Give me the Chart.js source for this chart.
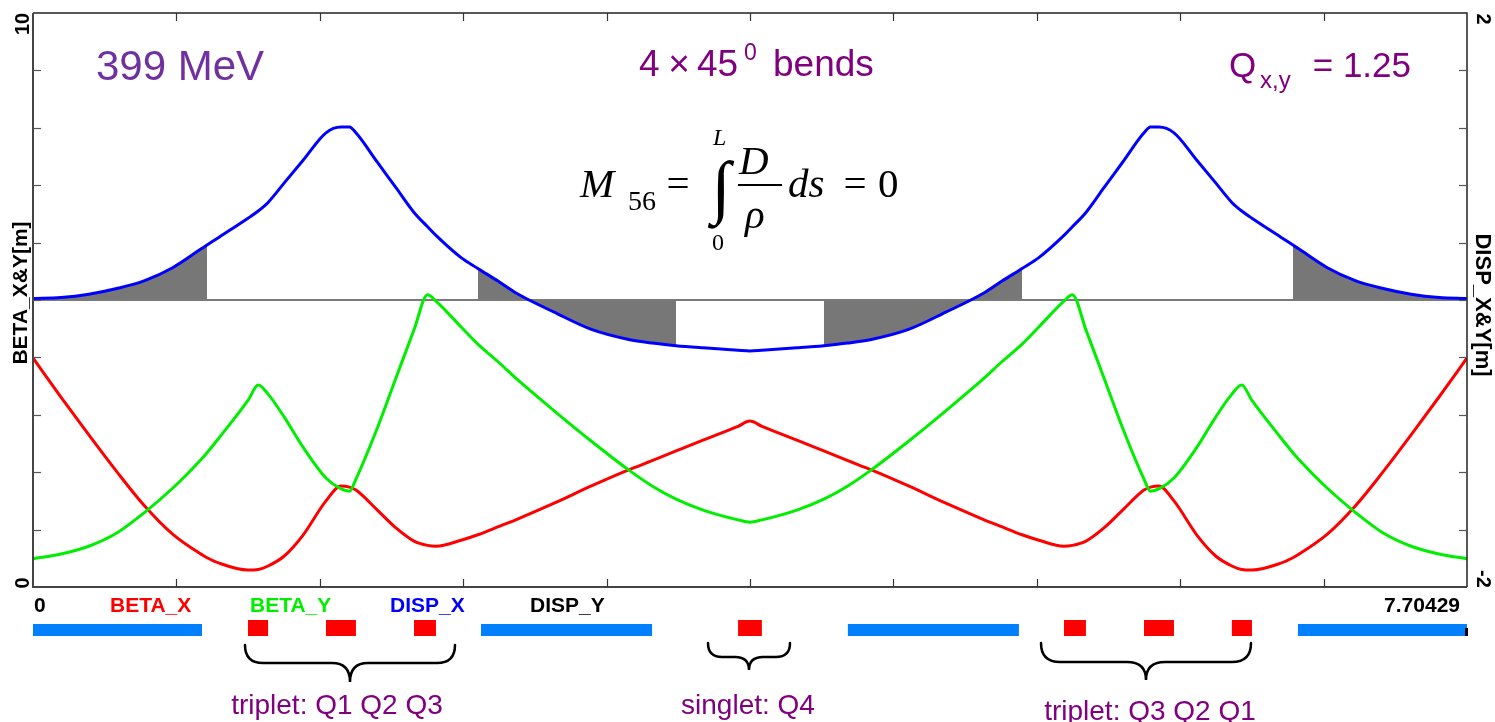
<!DOCTYPE html>
<html><head><meta charset="utf-8">
<script src="https://cdn.jsdelivr.net/npm/chart.js@4/dist/chart.umd.min.js"></script>
<style>html,body{margin:0;padding:0;background:#fff}#wrap{width:1495px;height:722px;position:relative}</style>
</head><body><div id="wrap"><canvas id="c" width="1495" height="722"></canvas></div>
<script>
// ---------- data ----------
const sMax = 7.70429;
const sPos = [0,0.15,0.3,0.45,0.6,0.75,0.908,0.935,1.0,1.155,1.21,1.263,1.35,1.45,1.574,1.655,1.7,1.735,1.85,1.95,2.047,2.12,2.165,2.3,2.39,2.5,2.6,2.8,3.0,3.2,3.326,3.455,3.6,3.788,3.852,
  3.916,4.104,4.249,4.378,4.504,4.704,4.904,5.104,5.204,5.314,5.404,5.539,5.584,5.657,5.754,5.854,5.969,6.004,6.049,6.130,6.254,6.354,6.441,6.494,6.549,6.704,6.769,6.796,6.954,7.104,7.254,7.404,7.554,7.70429];
const betaX = [3.99,3.31,2.65,2.01,1.41,0.92,0.56,0.51,0.415,0.296,0.305,0.366,0.54,0.90,1.50,1.76,1.74,1.69,1.34,1.03,0.80,0.725,0.71,0.815,0.91,1.05,1.18,1.46,1.76,2.04,2.20,2.37,2.56,2.80,2.89,
  2.80,2.56,2.37,2.20,2.04,1.76,1.46,1.18,1.05,0.91,0.815,0.71,0.725,0.80,1.03,1.34,1.69,1.74,1.76,1.50,0.90,0.54,0.366,0.305,0.296,0.415,0.51,0.56,0.92,1.41,2.01,2.65,3.31,3.99];
const betaY = [0.49,0.575,0.71,0.94,1.30,1.72,2.24,2.34,2.60,3.25,3.52,3.36,2.96,2.44,1.90,1.71,1.67,1.88,2.77,3.64,4.48,5.09,4.98,4.53,4.23,3.92,3.62,3.07,2.54,2.04,1.76,1.53,1.34,1.17,1.13,
  1.17,1.34,1.53,1.76,2.04,2.54,3.07,3.62,3.92,4.23,4.53,4.98,5.09,4.48,3.64,2.77,1.88,1.67,1.71,1.90,2.44,2.96,3.36,3.52,3.25,2.60,2.34,2.24,1.72,1.30,0.94,0.71,0.575,0.49];
const dispX = [0.01,0.017,0.04,0.08,0.135,0.225,0.36,0.383,0.438,0.57,0.62,0.68,0.816,0.972,1.165,1.205,1.205,1.165,0.96,0.783,0.61,0.51,0.45,0.295,0.22,0.13,0.045,-0.085,-0.205,-0.275,-0.30,-0.318,-0.333,-0.35,-0.355,
  -0.35,-0.333,-0.318,-0.30,-0.275,-0.205,-0.085,0.045,0.13,0.22,0.295,0.45,0.51,0.61,0.783,0.96,1.165,1.205,1.205,1.165,0.972,0.816,0.68,0.62,0.57,0.438,0.383,0.36,0.225,0.135,0.08,0.04,0.017,0.01];
const dispYPos = [0, 7.70429];
const dispY = [0, 0];
// shaded dispersion inside bends
const shadeRanges = [[0,0.935],[2.39,3.455],[4.249,5.314],[6.769,7.70429]];
// lattice
const dipoles = [[0,0.908],[2.407,3.326],[4.378,5.297],[6.796,7.70429]];
const quads = [[1.155,1.263],[1.574,1.735],[2.047,2.165],[3.788,3.916],[5.539,5.657],[5.969,6.130],[6.441,6.549]];
// axes
const xDivisions = 10;
const yLeftRange = [0, 10];
const yRightRange = [-2, 2];
const yLeftLabels = ['0', '10'];
const yRightLabels = ['-2', '2'];
const xLabels = ['0', '7.70429'];
const legendNames = ['BETA_X', 'BETA_Y', 'DISP_X', 'DISP_Y'];
const legendColors = ['#ff0000', '#00ee00', '#0000ff', '#000000'];

// ---------- build ----------
const pts = (xs, ys) => xs.map((s, i) => ({x: s, y: ys[i]}));
const shadeSets = shadeRanges.map(r => ({
  type: 'line', yAxisID: 'y2',
  data: pts(sPos, dispX).filter(p => p.x >= r[0] - 1e-9 && p.x <= r[1] + 1e-9),
  borderWidth: 0, borderColor: 'rgba(0,0,0,0)', backgroundColor: '#777777',
  fill: 'origin', pointRadius: 0, order: 10, cubicInterpolationMode: 'monotone'
}));
const lineBase = {type: 'line', pointRadius: 0, borderWidth: 3, fill: false, cubicInterpolationMode: 'monotone'};
const datasets = [
  ...shadeSets,
  {...lineBase, label: 'DISP_Y', yAxisID: 'y2', data: pts(dispYPos, dispY), borderColor: '#7a7a7a', borderWidth: 2, order: 8},
  {...lineBase, label: 'BETA_X', yAxisID: 'y', data: pts(sPos, betaX), borderColor: '#ff0000', order: 3},
  {...lineBase, label: 'BETA_Y', yAxisID: 'y', data: pts(sPos, betaY), borderColor: '#00ee00', order: 2},
  {...lineBase, label: 'DISP_X', yAxisID: 'y2', data: pts(sPos, dispX), borderColor: '#0000ff', order: 1}
];

const SANS = '"Liberation Sans", Arial, Helvetica, sans-serif';
const SERIF = '"Liberation Serif", "Times New Roman", serif';

function txt(ctx, s, x, y, font, color, align, rot) {
  ctx.save();
  ctx.font = font; ctx.fillStyle = color; ctx.textAlign = align || 'left'; ctx.textBaseline = 'alphabetic';
  if (rot) { ctx.translate(x, y); ctx.rotate(rot); ctx.textBaseline = 'middle'; ctx.textAlign = 'center'; ctx.fillText(s, 0, 0); }
  else ctx.fillText(s, x, y);
  ctx.restore();
}
function brace(ctx, x1, x2, yTop, yMid, yTip) {
  const c = (x1 + x2) / 2, r = yMid - yTop;
  ctx.beginPath();
  ctx.moveTo(x1, yTop);
  ctx.quadraticCurveTo(x1, yMid, x1 + r, yMid);
  ctx.lineTo(c - r, yMid);
  ctx.quadraticCurveTo(c, yMid, c, yTip);
  ctx.quadraticCurveTo(c, yMid, c + r, yMid);
  ctx.lineTo(x2 - r, yMid);
  ctx.quadraticCurveTo(x2, yMid, x2, yTop);
  ctx.stroke();
}

const deco = {
  id: 'deco',
  afterDraw(chart) {
    const ctx = chart.ctx, a = chart.chartArea, X = chart.scales.x, Y = chart.scales.y, Y2 = chart.scales.y2;
    ctx.save();
    // frame
    ctx.strokeStyle = '#222'; ctx.lineWidth = 1.5;
    ctx.beginPath(); ctx.moveTo(a.left, a.top); ctx.lineTo(a.right, a.top); ctx.lineTo(a.right, a.bottom); ctx.stroke();
    ctx.strokeStyle = '#444'; ctx.lineWidth = 2;
    ctx.beginPath(); ctx.moveTo(a.left, a.top); ctx.lineTo(a.left, a.bottom); ctx.lineTo(a.right, a.bottom); ctx.stroke();
    // ticks
    ctx.lineWidth = 1.2; ctx.strokeStyle = '#333';
    const step = sMax / xDivisions;
    for (let i = 1; i < xDivisions; i++) {
      const px = Math.round(X.getPixelForValue(i * step)) + 0.5;
      ctx.beginPath(); ctx.moveTo(px, a.top); ctx.lineTo(px, a.top + 8); ctx.stroke();
      ctx.beginPath(); ctx.moveTo(px, a.bottom); ctx.lineTo(px, a.bottom - 8); ctx.stroke();
    }
    ctx.strokeStyle = '#555';
    for (let v = yLeftRange[0] + 1; v < yLeftRange[1]; v++) {
      const py = Math.round(Y.getPixelForValue(v)) + 0.5;
      ctx.beginPath(); ctx.moveTo(a.left, py); ctx.lineTo(a.left + 8, py); ctx.stroke();
    }
    const rs = (yRightRange[1] - yRightRange[0]) / 10;
    for (let i = 1; i < 10; i++) {
      const py = Math.round(Y2.getPixelForValue(yRightRange[0] + i * rs)) + 0.5;
      ctx.beginPath(); ctx.moveTo(a.right - 8, py); ctx.lineTo(a.right, py); ctx.stroke();
    }
    // tick labels (rotated)
    const tf = 'bold 20px ' + SANS;
    txt(ctx, yLeftLabels[1], 23, Y.getPixelForValue(yLeftRange[1]) + 11, tf, '#000', 'center', -Math.PI / 2);
    txt(ctx, yLeftLabels[0], 23, Y.getPixelForValue(yLeftRange[0]) - 4, tf, '#000', 'center', -Math.PI / 2);
    txt(ctx, yRightLabels[1], 1483, Y2.getPixelForValue(yRightRange[1]) + 6, tf, '#000', 'center', Math.PI / 2);
    txt(ctx, yRightLabels[0], 1483, Y2.getPixelForValue(yRightRange[0]) - 8, tf, '#000', 'center', Math.PI / 2);
    // axis titles
    txt(ctx, 'BETA_X&Y[m]', 21, 293, 'bold 21px ' + SANS, '#000', 'center', -Math.PI / 2);
    txt(ctx, 'DISP_X&Y[m]', 1482, 305, 'bold 22px ' + SANS, '#000', 'center', Math.PI / 2);
    // x labels + legend row
    const lf = 'bold 21px ' + SANS;
    txt(ctx, xLabels[0], X.getPixelForValue(0) + 1, 612, lf, '#000', 'left');
    txt(ctx, xLabels[1], X.getPixelForValue(sMax) - 7, 612, lf, '#000', 'right');
    const legX = [110, 250, 390, 530];
    legendNames.forEach((n, i) => txt(ctx, n, legX[i], 612, lf, legendColors[i], 'left'));
    // lattice
    ctx.fillStyle = '#0080ff';
    dipoles.forEach(d => { const x1 = X.getPixelForValue(d[0]), x2 = X.getPixelForValue(d[1]); ctx.fillRect(x1, 624, x2 - x1, 12); });
    ctx.fillStyle = '#000'; ctx.fillRect(X.getPixelForValue(sMax) - 2, 628, 3, 8);
    ctx.fillStyle = '#ff0000';
    quads.forEach(q => { const x1 = X.getPixelForValue(q[0]), x2 = X.getPixelForValue(q[1]); ctx.fillRect(x1, 620, x2 - x1, 16); });
    // braces
    ctx.strokeStyle = '#000'; ctx.lineWidth = 2.5; ctx.lineCap = 'round';
    brace(ctx, 245, 455, 645, 663, 682);
    brace(ctx, 708, 790, 643, 657, 670);
    brace(ctx, 1041, 1251, 643, 662, 680);
    // bottom labels
    const bf = '28px ' + SANS, purple = '#800080';
    txt(ctx, 'triplet: Q1 Q2 Q3', 337, 714, bf, purple, 'center');
    txt(ctx, 'singlet: Q4', 748, 714, bf, purple, 'center');
    txt(ctx, 'triplet: Q3 Q2 Q1', 1150, 720, bf, purple, 'center');
    // top labels
    txt(ctx, '399 MeV', 96, 80, '42px ' + SANS, '#7030a0', 'left');
    const hf = '37px ' + SANS;
    txt(ctx, '4', 639, 76, hf, purple, 'left');
    txt(ctx, '\u00d7', 679, 76, hf, purple, 'center');
    txt(ctx, '45', 697, 76, hf, purple, 'left');
    txt(ctx, '0', 744, 60, '23px ' + SANS, purple, 'left');
    txt(ctx, 'bends', 773, 76, hf, purple, 'left');
    const qf = '35px ' + SANS;
    txt(ctx, 'Q', 1229, 77, qf, purple, 'left');
    txt(ctx, 'x,y', 1260, 88, '24px ' + SANS, purple, 'left');
    txt(ctx, '= 1.25', 1411, 77, qf, purple, 'right');
    // formula
    const fi = 'italic 41px ' + SERIF, fr = '41px ' + SERIF;
    txt(ctx, 'M', 580, 197, fi, '#000', 'left');
    txt(ctx, '56', 628, 210, '28px ' + SERIF, '#000', 'left');
    txt(ctx, '=', 678, 197, fr, '#000', 'center');
    txt(ctx, '\u222b', 721, 210, '70px ' + SERIF, '#000', 'center');
    txt(ctx, 'L', 713, 145, 'italic 24px ' + SERIF, '#000', 'left');
    txt(ctx, '0', 712, 250, '24px ' + SERIF, '#000', 'left');
    txt(ctx, 'D', 739, 174, fi, '#000', 'left');
    ctx.lineWidth = 2; ctx.lineCap = 'butt';
    ctx.beginPath(); ctx.moveTo(738, 185); ctx.lineTo(782, 185); ctx.stroke();
    txt(ctx, '\u03c1', 745, 228, fi, '#000', 'left');
    txt(ctx, 'ds', 788, 197, fi, '#000', 'left');
    txt(ctx, '=', 855, 197, fr, '#000', 'center');
    txt(ctx, '0', 878, 197, fr, '#000', 'left');
    ctx.restore();
  }
};

new Chart(document.getElementById('c'), {
  type: 'line',
  data: {datasets},
  options: {
    responsive: false, animation: false, events: [],
    layout: {padding: {left: 33, top: 13, right: 28, bottom: 135}},
    plugins: {legend: {display: false}, tooltip: {enabled: false}, title: {display: false}},
    scales: {
      x: {type: 'linear', min: 0, max: sMax, display: false},
      y: {type: 'linear', min: yLeftRange[0], max: yLeftRange[1], display: false},
      y2: {type: 'linear', min: yRightRange[0], max: yRightRange[1], display: false, position: 'right'}
    }
  },
  plugins: [deco]
});
</script></body></html>
